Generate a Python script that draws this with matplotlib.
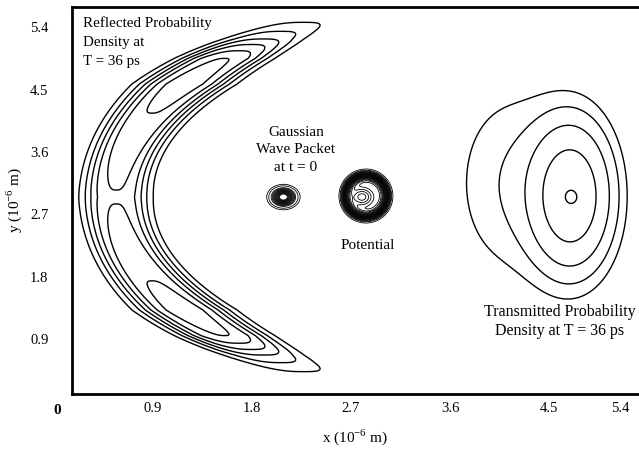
import numpy as np
import matplotlib.pyplot as plt

plt.rcParams['font.family'] = 'Liberation Serif'
plt.rcParams['mathtext.fontset'] = 'custom'
plt.rcParams['mathtext.rm'] = 'Liberation Serif'

# axis ticks (the original squeezes the last x label inside the frame)
x_tick_pos = [0.9, 1.8, 2.7, 3.6, 4.5, 5.15]
x_tick_labels = ['0.9', '1.8', '2.7', '3.6', '4.5', '5.4']
y_ticks = [0.9, 1.8, 2.7, 3.6, 4.5, 5.4]

# reflected crescent: ridge x = x0 + a2*Y^2 + a4*Y^4, Y = y - crescent_cy
crescent_cy = 2.95
ridge_coef = [0.564, 0.2096, 0.0093]
# ridge height along |Y| and band width (x units)
arc_y = [0.0, 0.10, 1.21, 1.63, 2.0, 2.11, 2.2, 2.28, 2.39, 2.52, 2.66]
arc_amp = [4.85, 5.0, 6.0, 6.5, 6.0, 5.0, 4.0, 3.0, 2.0, 1.0, 0.0]
width_y = [0.0, 1.63, 2.14, 2.53]
width_w = [0.291, 0.232, 0.164, 0.115]
crescent_levels = [1, 2, 3, 4, 5, 6]

# transmitted packet: gaussian parts (x, y, sx, sy, amp)
trans_x = [4.705, 4.159, 4.705]
trans_y = [2.96, 3.15, 2.949]
trans_sx = [0.227, 0.364, 0.036]
trans_sy = [0.649, 0.95, 0.058]
trans_amp = [1.0, 0.16, 0.15]
trans_levels = [0.0855, 0.167, 0.325, 0.634, 1.08]

# initial gaussian wave packet
packet_x, packet_y = 2.086, 2.949
packet_sx, packet_sy = 0.062, 0.075
packet_levels = [0.05, 0.1, 0.2, 0.26, 0.32, 0.38, 0.44, 0.5, 0.56, 0.62,
                 0.68, 0.74, 0.8, 0.85]

# potential barrier: super-gaussian disk with a shallow inner dip
pot_x, pot_y = 2.836, 2.964
pot_rx, pot_ry = 0.199, 0.316
pot_power = 6
dip_x, dip_y = 2.80, 2.95
dip_rx, dip_ry = 0.10, 0.13
dip_depth = 0.22
pot_levels = np.linspace(0.03, 0.97, 24)

fig = plt.figure(figsize=(6.39, 4.53), dpi=100)
ax = fig.add_axes([0.1127, 0.1302, 0.9073, 0.8543])
ax.set_xlim(0.164, 5.435)
ax.set_ylim(0.107, 5.691)

xs = np.linspace(0.164, 5.435, 1400)
ys = np.linspace(0.107, 5.691, 1100)
X, Y = np.meshgrid(xs, ys)

# display aspect: pixels per x unit / pixels per y unit
k = (0.9073 * 6.39 / (5.435 - 0.164)) / (0.8543 * 4.53 / (5.691 - 0.107))

Yc = Y - crescent_cy
xr = ridge_coef[0] + ridge_coef[1] * Yc**2 + ridge_coef[2] * Yc**4
dxr = 2 * ridge_coef[1] * Yc + 4 * ridge_coef[2] * Yc**3
d = (X - xr) / np.sqrt(1 + (k * dxr)**2)
A = np.interp(np.abs(Yc), arc_y, arc_amp)
W = np.interp(np.abs(Yc), width_y, width_w)
refl = A * np.exp(-np.abs(d / W)**3)
ax.contour(X, Y, refl, levels=crescent_levels, colors='black', linewidths=1.0)

trans = np.zeros_like(X)
for cx, cy, sx, sy, a in zip(trans_x, trans_y, trans_sx, trans_sy, trans_amp):
    trans += a * np.exp(-(X - cx)**2 / (2 * sx**2) - (Y - cy)**2 / (2 * sy**2))
ax.contour(X, Y, trans, levels=trans_levels, colors='black', linewidths=1.0)

packet = np.exp(-(X - packet_x)**2 / (2 * packet_sx**2)
                - (Y - packet_y)**2 / (2 * packet_sy**2))
ax.contour(X, Y, packet, levels=packet_levels, colors='black', linewidths=0.6)

r = np.sqrt(((X - pot_x) / pot_rx)**2 + ((Y - pot_y) / pot_ry)**2)
rd = np.sqrt(((X - dip_x) / dip_rx)**2 + ((Y - dip_y) / dip_ry)**2)
pot = np.exp(-r**pot_power) * (1 - dip_depth * np.exp(-rd**2))
ax.contour(X, Y, pot, levels=pot_levels, colors='black', linewidths=0.6)

ax.text(0.264, 5.186, 'Reflected Probability\nDensity at\nT = 36 ps',
        ha='left', va='center', fontsize=10.8, linespacing=1.62)
ax.text(2.2, 3.63, 'Gaussian\nWave Packet\nat t = 0',
        ha='center', va='center', fontsize=11, linespacing=1.45)
ax.text(2.855, 2.257, 'Potential', ha='center', va='center', fontsize=11)
ax.text(4.6, 1.16, 'Transmitted Probability\nDensity at T = 36 ps',
        ha='center', va='center', fontsize=11.5, linespacing=1.25)

ax.set_xticks(x_tick_pos)
ax.set_xticklabels(x_tick_labels)
ax.set_yticks(y_ticks)
ax.set_yticklabels([str(v) for v in y_ticks])
ax.tick_params(axis='both', length=0, labelsize=10.5)
ax.tick_params(axis='x', pad=6)
ax.tick_params(axis='y', pad=17)
ax.annotate('0', xy=(0.027, 0), xycoords=('data', 'axes fraction'),
            xytext=(0, -7), textcoords='offset points', ha='center',
            va='top', fontsize=11, fontweight='bold', annotation_clip=False)

for side in ['left', 'bottom', 'top']:
    ax.spines[side].set_linewidth(2)
ax.spines['right'].set_visible(False)

ax.set_xlabel(r'x (10$^{-6}$ m)', fontsize=11)
ax.set_ylabel(r'y (10$^{-6}$ m)', fontsize=11)
ax.xaxis.set_label_coords(0.488, -0.085)
ax.yaxis.set_label_coords(-0.083, 0.501)

fig.savefig('out.png', dpi=100)
